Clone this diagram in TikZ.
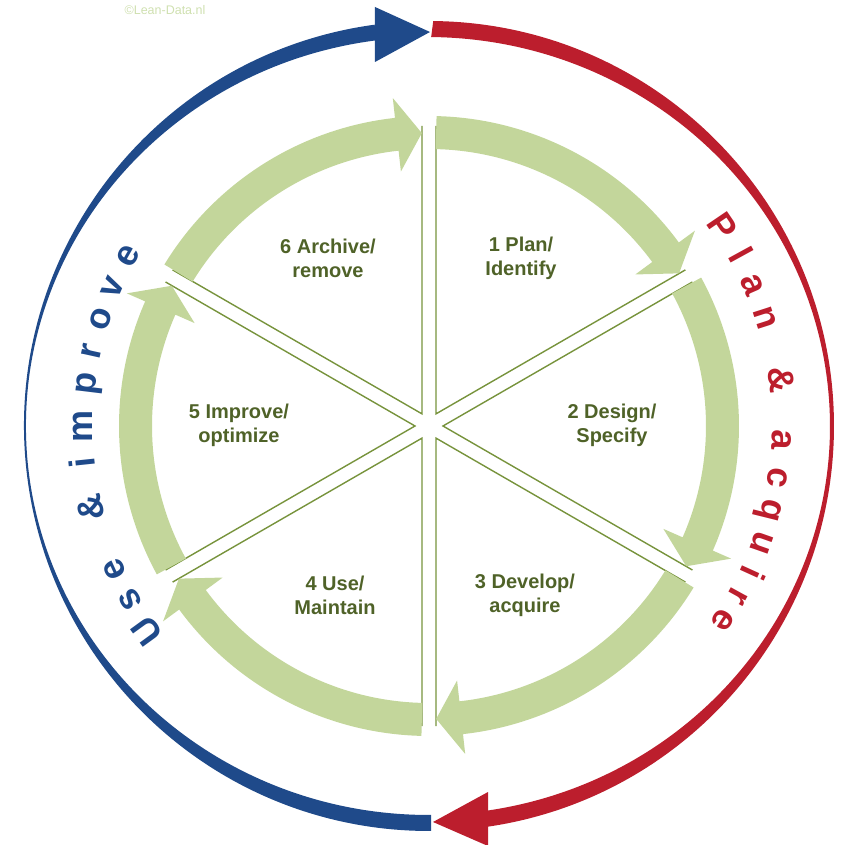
\documentclass[tikz,border=0pt]{standalone}
\usepackage{fontspec}
\setmainfont{Liberation Sans}
\usetikzlibrary{calc}
\definecolor{ringgreen}{HTML}{C3D69B}
\definecolor{linegreen}{HTML}{77933C}
\definecolor{labelgreen}{HTML}{4F6228}
\definecolor{markgreen}{HTML}{CFE0B0}
\definecolor{useblue}{HTML}{1F4A8A}
\definecolor{planred}{HTML}{BC1E2D}
\tikzset{
    ringarrow/.style={fill=ringgreen},
    divider/.style={draw=linegreen, line width=1.4pt, line join=miter},
    steplabel/.style={align=center, font=\fontsize{20}{24}\selectfont\bfseries, text=labelgreen},
    rimletter/.style={anchor=base, inner sep=0pt, font=\fontsize{36}{36}\selectfont\bfseries}
}

\begin{document}
\begin{tikzpicture}[x=1pt, y=1pt]
    \useasboundingbox (-429,-419) rectangle (422,426);

    % copyright mark, top left
    \node[font=\fontsize{12.5}{13}\selectfont, text=markgreen] (copyr) at (-264,416) {\textcopyright Lean-Data.nl};

    % outer cycle: blue half on the left, red half on the right
    \fill[useblue] (97.7:405) arc[start angle=97.7, end angle=270.3, radius=405]
        -- (270.3:389) arc[start angle=270.3, end angle=97.7, x radius=403, y radius=389] -- cycle;
    \fill[useblue] (-54,419) -- (1,394) -- (-54,364) -- cycle;
    \fill[planred] (89.4:405) arc[start angle=89.4, end angle=-81.6, radius=405]
        -- (-81.6:389) arc[start angle=-81.6, end angle=89.4, x radius=403, y radius=389] -- cycle;
    \fill[planred] (59,-366) -- (4,-396) -- (59,-420) -- cycle;

    % lettering along the rim
    \foreach \ch/\ang in {P/34.2, l/28.7, a/23.6, n/17.8, \&/7.5, a/-2.3, c/-8.4, q/-13.9, u/-19.4, i/-24.4, r/-28.8, e/-33.4}
        \node[rimletter, text=planred, rotate=\ang-90] at (\ang:343) {\ch};
    \foreach \ch/\ang in {U/216, s/210.2, e/204.5, \&/193.5, i/186, m/180, p/173, r/167.5, o/162, v/156.3, e/150.5}
        \node[rimletter, text=useblue, rotate=\ang-90] at (\ang:336) {\ch};

    % spokes between the six steps
    \foreach \mid in {60,0,-60,-120,180,120}
        \draw[divider] ([shift={(\mid:14)}]{\mid+30}:288) -- (\mid:14) -- ([shift={(\mid:14)}]{\mid-30}:288);

    % inner ring of six arrows
    \foreach \tail/\tip [evaluate=\tip as \base using \tip+4.9] in {148.6/91.4, 88.6/31.4, 28.6/-28.6, -31.4/-88.6, -91.4/-148.6, -151.4/-208.6}
        \fill[ringarrow] (\tail:310) arc[start angle=\tail, end angle=\base, radius=310]
            -- (\base:330) -- (\tip:293) -- (\base:256)
            -- (\base:277) arc[start angle=\base, end angle=\tail, radius=277] -- cycle;

    % step labels
    \node[steplabel] (plan) at (92,168) {1 Plan/\\Identify};
    \node[steplabel] (design) at (183,1) {2 Design/\\Specify};
    \node[steplabel] (develop) at (96,-169) {3 Develop/\\acquire};
    \node[steplabel] (use) at (-94,-169) {4 Use/\\Maintain};
    \node[steplabel] (improve) at (-190,1) {5 Improve/\\optimize};
    \node[steplabel] (archive) at (-101,168) {6 Archive/\\remove};
\end{tikzpicture}
\end{document}
